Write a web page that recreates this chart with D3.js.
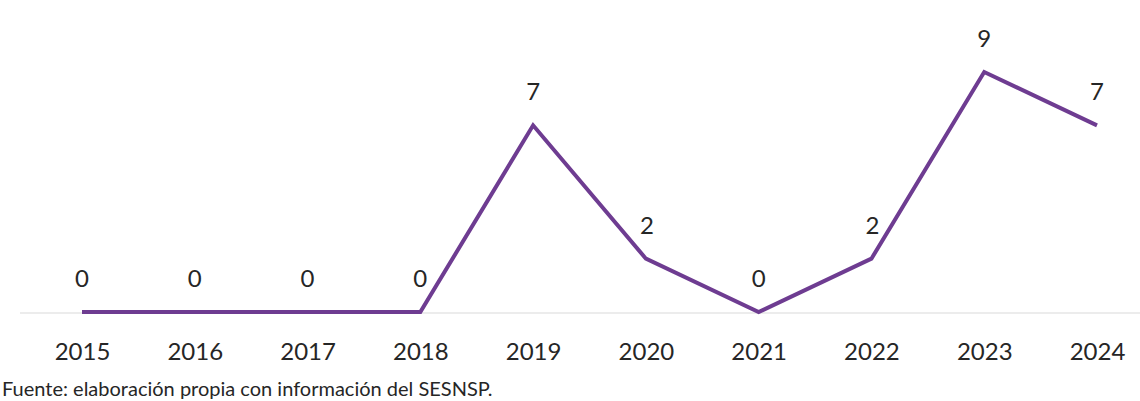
<!DOCTYPE html>
<html><head><meta charset="utf-8">
<script src="https://cdn.jsdelivr.net/npm/d3@7"></script>
<style>body{margin:0;background:#fff}svg{display:block}</style>
</head><body>
<svg id="c" width="1140" height="401"></svg>
<script>
const years = ["2015","2016","2017","2018","2019","2020","2021","2022","2023","2024"];
const values = [0,0,0,0,7,2,0,2,9,7];
const source = "Fuente: elaboración propia con información del SESNSP.";

const svg = d3.select("#c");
const font = "Lato, 'Open Sans', sans-serif";
const x = d3.scalePoint().domain(years).range([82, 1097]);
const y = d3.scaleLinear().domain([0, 9]).range([312, 72]);

svg.append("line").attr("x1", 20).attr("x2", 1140).attr("y1", y(0)+1).attr("y2", y(0)+1)
  .attr("stroke", "#d9d9d9").attr("stroke-width", 1.2);

const axis = d3.axisBottom(x).tickSize(0).tickPadding(0);
const g = svg.append("g").attr("transform", `translate(0,${y(0)})`).call(axis);
g.select(".domain").remove();
g.selectAll("text").attr("dy", null).attr("y", 48).attr("font-family", font)
  .attr("font-size", 24).attr("fill", "#262626");

const line = d3.line().x((d,i)=>x(years[i])).y(d=>y(d));
svg.append("path").datum(values).attr("d", line).attr("fill", "none")
  .attr("stroke", "#6e3c91").attr("stroke-width", 4).attr("stroke-linejoin", "miter");

svg.selectAll(".lbl").data(values).enter().append("text")
  .attr("x", (d,i)=>x(years[i]) + (d===2 ? 1 : 0))
  .attr("y", d=>y(d) - 25)
  .attr("text-anchor", "middle").attr("font-family", font).attr("font-size", 24)
  .attr("fill", "#262626").text(d=>d);

svg.append("text").attr("x", 2).attr("y", 396).attr("font-family", font)
  .attr("font-size", 20).attr("fill", "#262626").text(source);
</script>
</body></html>
